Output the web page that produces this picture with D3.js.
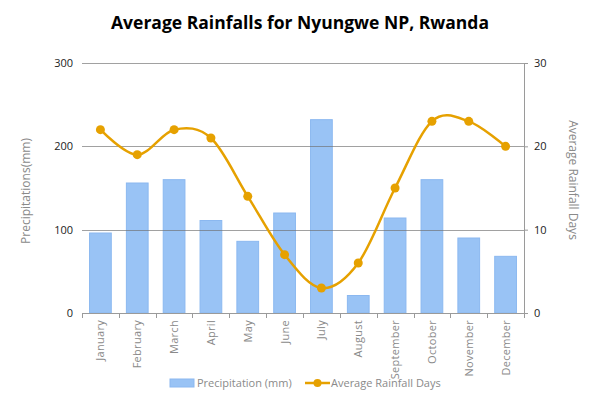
<!DOCTYPE html>
<html>
<head>
<meta charset="utf-8">
<script src="https://cdn.jsdelivr.net/npm/d3@7"></script>
<style>
  body { margin: 0; background: #fff; }
  text { font-family: "Open Sans", "Noto Sans", sans-serif; }
</style>
</head>
<body>
<svg id="chart" width="600" height="399"></svg>
<script>
const months = ['January', 'February', 'March', 'April', 'May', 'June', 'July',
  'August', 'September', 'October', 'November', 'December'];
const precipitation = [96, 156, 160, 111, 86, 120, 232, 21, 114, 160, 90, 68];
const rainDays = [22, 19, 22, 21, 14, 7, 3, 6, 15, 23, 23, 20];
const leftTicks = [0, 100, 200, 300];
const rightTicks = [0, 10, 20, 30];

const svg = d3.select('#chart');
const margin = { top: 63, right: 76, bottom: 86, left: 82 };
const width = 600 - margin.left - margin.right;
const height = 399 - margin.top - margin.bottom;

const barColor = '#99c3f5';
const lineColor = '#e6a100';
const labelGray = '#8a8a8a';

const g = svg.append('g').attr('transform', `translate(${margin.left},${margin.top})`);

const x = d3.scaleBand().domain(months).range([0, width]).paddingInner(0.41).paddingOuter(0.205);
const yLeft = d3.scaleLinear().domain([0, 300]).range([height, 0]);
const yRight = d3.scaleLinear().domain([0, 30]).range([height, 0]);

// bars
g.selectAll('rect.bar')
  .data(precipitation)
  .enter()
  .append('rect')
  .classed('bar', true)
  .attr('x', (d, i) => x(months[i]))
  .attr('y', d => yLeft(d))
  .attr('width', x.bandwidth())
  .attr('height', d => height - yLeft(d))
  .style('fill', barColor)
  .style('stroke', '#8bb8f0')
  .style('stroke-width', 1);

// gridlines over bars, a bit transparent
g.selectAll('line.grid')
  .data(leftTicks.filter(t => t > 0))
  .enter()
  .append('line')
  .classed('grid', true)
  .attr('x1', 0)
  .attr('x2', width)
  .attr('y1', d => Math.round(yLeft(d)) + 0.5)
  .attr('y2', d => Math.round(yLeft(d)) + 0.5)
  .style('stroke', '#6e6e6e')
  .style('stroke-opacity', 0.65)
  .style('stroke-width', 1.2);

// left axis (labels only)
const leftAxis = g.append('g')
  .call(d3.axisLeft(yLeft).tickValues(leftTicks).tickSize(0).tickPadding(9));
leftAxis.select('.domain').remove();
leftAxis.selectAll('text').style('font-size', '11px').style('fill', '#222');

// right axis
const rightAxis = g.append('g')
  .attr('transform', `translate(${width},0)`)
  .call(d3.axisRight(yRight).tickValues(rightTicks).tickSize(4).tickSizeOuter(0).tickPadding(6));
rightAxis.select('.domain').style('stroke', '#9a9a9a');
rightAxis.selectAll('line').style('stroke', '#9a9a9a');
rightAxis.selectAll('text').style('font-size', '11px').style('fill', '#222');

// bottom axis with ticks between categories
const bottom = g.append('g').attr('transform', `translate(0,${height})`);
bottom.append('line')
  .attr('x1', 0).attr('x2', width)
  .attr('y1', 0.5).attr('y2', 0.5)
  .style('stroke', '#9a9a9a');
const step = x.step();
bottom.selectAll('line.tick')
  .data(d3.range(months.length + 1))
  .enter()
  .append('line')
  .classed('tick', true)
  .attr('x1', i => Math.round(x(months[0]) - x.paddingOuter() * step + i * step) + 0.5)
  .attr('x2', i => Math.round(x(months[0]) - x.paddingOuter() * step + i * step) + 0.5)
  .attr('y1', 0)
  .attr('y2', 5)
  .style('stroke', '#9a9a9a');
bottom.selectAll('text.month')
  .data(months)
  .enter()
  .append('text')
  .classed('month', true)
  .attr('transform', d => `translate(${x(d) + x.bandwidth() / 2 + 4},7) rotate(-90)`)
  .attr('text-anchor', 'end')
  .style('font-size', '11px')
  .style('letter-spacing', '0.3px')
  .style('fill', labelGray)
  .text(d => d);

// smoothed line
const line = d3.line()
  .x((d, i) => x(months[i]) + x.bandwidth() / 2)
  .y(d => yRight(d))
  .curve(d3.curveCatmullRom.alpha(0));

g.append('path')
  .datum(rainDays)
  .attr('d', line)
  .style('fill', 'none')
  .style('stroke', lineColor)
  .style('stroke-width', 2.5);

g.selectAll('circle.dot')
  .data(rainDays)
  .enter()
  .append('circle')
  .classed('dot', true)
  .attr('cx', (d, i) => x(months[i]) + x.bandwidth() / 2)
  .attr('cy', d => yRight(d))
  .attr('r', 4.5)
  .style('fill', lineColor);

// title
svg.append('text')
  .attr('x', 300)
  .attr('y', 29)
  .attr('text-anchor', 'middle')
  .style('font-size', '17.5px')
  .style('font-weight', 'bold')
  .style('fill', '#000')
  .text('Average Rainfalls for Nyungwe NP, Rwanda');

// axis titles
svg.append('text')
  .attr('transform', `translate(30,${margin.top + height / 2 + 3}) rotate(-90)`)
  .attr('text-anchor', 'middle')
  .style('font-size', '12px')
  .style('fill', labelGray)
  .text('Precipitations(mm)');

svg.append('text')
  .attr('transform', `translate(569,${margin.top + height / 2 - 8}) rotate(90)`)
  .attr('text-anchor', 'middle')
  .style('font-size', '12px')
  .style('fill', labelGray)
  .text('Average Rainfall Days');

// legend
const legend = svg.append('g').attr('transform', 'translate(0,383)');
legend.append('rect')
  .attr('x', 170).attr('y', -4)
  .attr('width', 24).attr('height', 8)
  .style('fill', barColor)
  .style('stroke', '#8bb8f0');
legend.append('text')
  .attr('x', 197).attr('y', 4)
  .style('font-size', '11px')
  .style('fill', labelGray)
  .text('Precipitation (mm)');
legend.append('line')
  .attr('x1', 305).attr('x2', 330)
  .attr('y1', 0).attr('y2', 0)
  .style('stroke', lineColor)
  .style('stroke-width', 2.5);
legend.append('circle')
  .attr('cx', 317.5).attr('cy', 0).attr('r', 4)
  .style('fill', lineColor);
legend.append('text')
  .attr('x', 331).attr('y', 4)
  .style('font-size', '11px')
  .style('fill', labelGray)
  .text('Average Rainfall Days');
</script>
</body>
</html>
